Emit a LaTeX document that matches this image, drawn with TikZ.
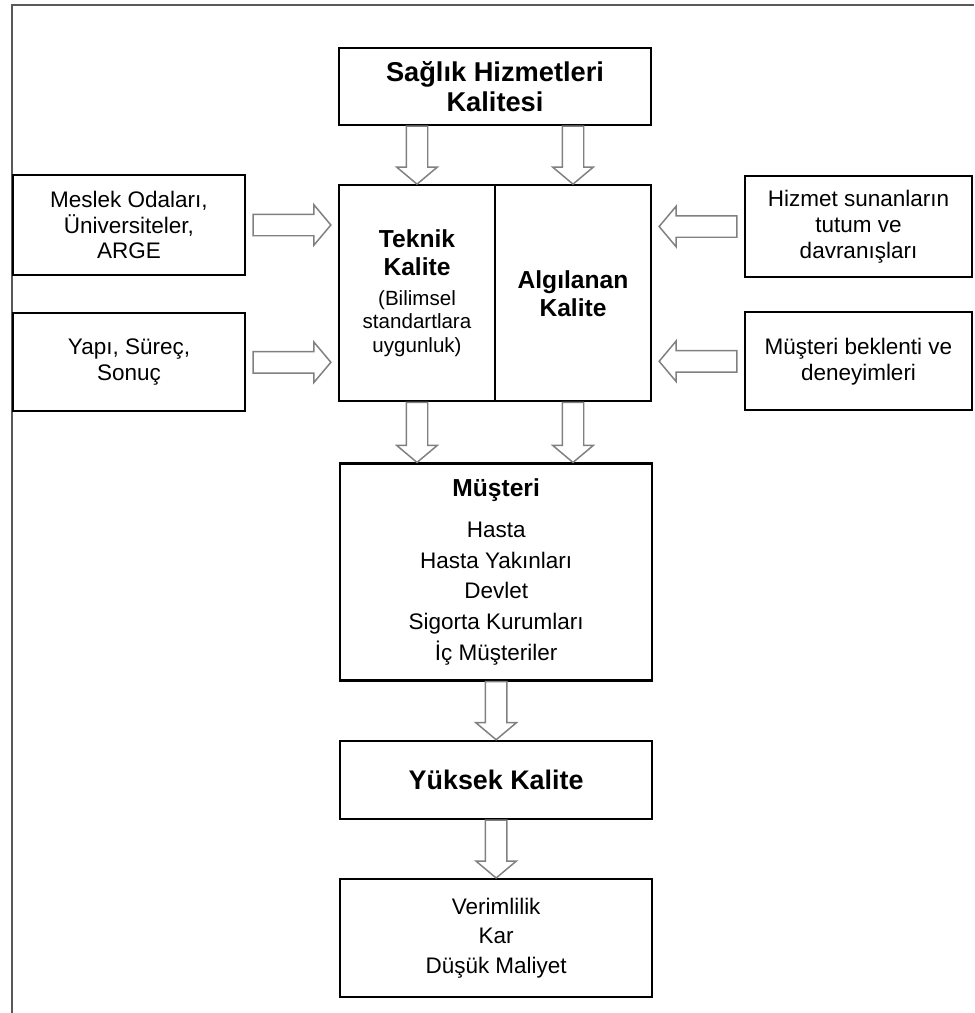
\documentclass[tikz,border=0pt]{standalone}
\usepackage{fontspec}
\setmainfont{Liberation Sans}
\usetikzlibrary{shapes,arrows,positioning,calc}

\newcommand{\headfont}{\fontsize{14}{15.9}\selectfont\bfseries}
% hollow block arrow from #1 to #2
\newcommand{\hollowarrow}[2]{%
  \path let \p1=#1, \p2=#2 in
    node[hollow, anchor=tail, minimum height={veclen(\x2-\x1,\y2-\y1)}, rotate={atan2(\y2-\y1,\x2-\x1)}]
      at (\p1) {};}

\begin{document}
\begin{tikzpicture}[
    box/.style={draw, rectangle, line width=1.3pt, align=center, inner sep=0pt},
    mainbox/.style={box, minimum width=6.24cm},
    halfbox/.style={box, minimum width=3.12cm, minimum height=4.32cm},
    sidebox/.style={box, font=\fontsize{12.8}{14.7}\selectfont},
    hollow/.style={single arrow, draw=black!50, line width=0.85pt, inner xsep=0pt, inner ysep=0.2cm, outer sep=0pt, single arrow head extend=0.19cm, single arrow tip angle=100},
    node distance=1.2cm
]
    \useasboundingbox (0,0) rectangle (19.48,-20.26);
    \draw[line width=0.9pt, black!65] (0.24,-20.26) -- (0.24,-0.1) -- (19.48,-0.1);

    \node [mainbox, minimum height=1.54cm, font=\fontsize{15.5}{17}\selectfont\bfseries] (saglik) at (9.90,-1.73) {Sağlık Hizmetleri\\Kalitesi};
    \node [halfbox, below=1.16cm of saglik.south west, anchor=north west, font=\fontsize{11.7}{13.3}\selectfont] (teknik)
        {{\headfont Teknik}\\[2.6pt]{\headfont Kalite}\\[3.7pt](Bilimsel\\standartlara\\uygunluk)};
    \node [halfbox, right=-1.3pt of teknik, font=\headfont] (algilanan) {Algılanan\\Kalite};
    \node [mainbox, below=1.2cm of teknik.south east, minimum height=4.34cm, font=\fontsize{12.8}{17.5}\selectfont] (musteri)
        {{\headfont Müşteri}\\[5.7pt]Hasta\\Hasta Yakınları\\Devlet\\Sigorta Kurumları\\İç Müşteriler};
    \node [mainbox, below=1.16cm of musteri, minimum height=1.56cm, font=\fontsize{15.3}{17}\selectfont\bfseries] (yuksek) {Yüksek Kalite};
    \node [mainbox, below=1.16cm of yuksek, minimum height=2.36cm, font=\fontsize{12.8}{17}\selectfont] (sonuc) {Verimlilik\\Kar\\Düşük Maliyet};

    \node [sidebox, minimum width=4.64cm, minimum height=2cm] (meslek) at (2.58,-4.50) {Meslek Odaları,\\Üniversiteler,\\ARGE};
    \node [sidebox, minimum width=4.64cm, minimum height=1.96cm, below=0.72cm of meslek] (yapi) {Yapı, Süreç,\\Sonuç};
    \node [sidebox, minimum width=4.54cm, minimum height=2.02cm] (hizmet) at (17.17,-4.53) {Hizmet sunanların\\tutum ve\\davranışları};
    \node [sidebox, minimum width=4.54cm, minimum height=1.96cm, below=0.66cm of hizmet] (beklenti) {Müşteri beklenti ve\\deneyimleri};

    \hollowarrow{(teknik.north |- saglik.south)}{(teknik.north)}
    \hollowarrow{(algilanan.north |- saglik.south)}{(algilanan.north)}
    \hollowarrow{(teknik.south)}{(teknik.south |- musteri.north)}
    \hollowarrow{(algilanan.south)}{(algilanan.south |- musteri.north)}
    \hollowarrow{(musteri.south)}{(yuksek.north)}
    \hollowarrow{(yuksek.south)}{(sonuc.north)}
    \hollowarrow{($(meslek.east)+(0.14,0)$)}{($(teknik.west |- meslek.east)-(0.14,0)$)}
    \hollowarrow{($(yapi.east)+(0.14,0)$)}{($(teknik.west |- yapi.east)-(0.14,0)$)}
    \hollowarrow{($(hizmet.west)-(0.14,0)$)}{($(algilanan.east |- hizmet.west)+(0.14,0)$)}
    \hollowarrow{($(beklenti.west)-(0.14,0)$)}{($(algilanan.east |- beklenti.west)+(0.14,0)$)}

\end{tikzpicture}
\end{document}
